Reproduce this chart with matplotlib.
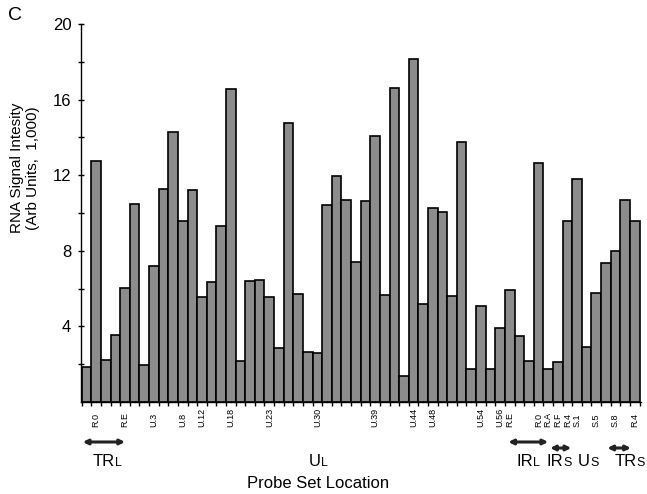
import matplotlib.pyplot as plt
import numpy as np

plt.rcParams['font.family'] = ['Liberation Sans', 'DejaVu Sans']

# RNA signal per probe set (x1000)
signal = [1.85, 12.74, 2.24, 3.57, 6.04, 10.47, 1.98, 7.2, 11.28, 14.29,
          9.6, 11.22, 5.54, 6.35, 9.32, 16.55, 2.17, 6.41, 6.46, 5.58,
          2.86, 14.77, 5.69, 2.65, 2.6, 10.43, 11.95, 10.69, 7.4, 10.64,
          14.05, 5.66, 16.62, 1.36, 18.14, 5.17, 10.29, 10.03, 5.61, 13.78,
          1.73, 5.1, 1.75, 3.92, 5.93, 3.48, 2.17, 12.64, 1.75, 2.1,
          9.6, 11.81, 2.93, 5.77, 7.36, 8.01, 10.71, 9.57]

# which bars carry a probe name
label_idx = [1, 4, 7, 10, 12, 15, 19, 24, 30, 34, 36, 41, 43, 44,
             47, 48, 49, 50, 51, 53, 55, 57]
label_txt = ['R.0', 'R.E', 'U.3', 'U.8', 'U.12', 'U.18', 'U.23', 'U.30',
             'U.39', 'U.44', 'U.48', 'U.54', 'U.56', 'R.E', 'R.0', 'R.A',
             'R.F', 'R.4', 'S.1', 'S.5', 'S.8', 'R.4']

# genome regions: (main, small, span start, span end)
regions = [('TR', 'L', -0.4, 4.0),
           ('U', 'L', None, None),
           ('IR', 'L', 43.85, 48.0),
           ('IR', 'S', 48.2, 50.4),
           ('U', 'S', None, None),
           ('TR', 'S', 54.15, 56.6)]
region_anchor = [2.96, 24.37, 46.46, 49.58, 52.34, 57.2]
arrow_y = [52, None, 52, 46, None, 46]

W, H = 647, 494
fig = plt.figure(figsize=(W / 100, H / 100), dpi=100)
ax = fig.add_axes([81 / W, 1 - 402 / H, 560 / W, 378 / H])

x = np.arange(len(signal))
ax.bar(x, signal, width=1.0, color='#8c8c8c', edgecolor='black', linewidth=1.2)

ax.set_xlim(-0.58, 57.65)
ax.set_ylim(0, 20)
ax.spines['top'].set_visible(False)
ax.spines['right'].set_visible(False)
ax.spines['left'].set_linewidth(1.0)
ax.spines['bottom'].set_linewidth(1.0)

ax.set_yticks([4, 8, 12, 16, 20])
ax.set_yticks([2, 6, 10, 14, 18], minor=True)
ax.tick_params(axis='y', which='both', direction='inout', length=4, width=1,
               labelsize=12, pad=5)

ax.set_xticks(np.arange(len(signal) + 1) - 0.5, minor=True)
ax.set_xticks([])
ax.tick_params(axis='x', which='minor', direction='out', length=3, width=1)

trans = ax.get_xaxis_transform()
for i, t in zip(label_idx, label_txt):
    ax.text(i, -0.066, t, rotation=90, ha='center', va='bottom',
            fontsize=6.5, transform=trans)

# region arrows and names
for (main, small, a, b), xa, ya in zip(regions, region_anchor, arrow_y):
    if a is not None:
        ax.annotate('', xy=(a, ya / H), xytext=(b, ya / H),
                    xycoords=('data', 'figure fraction'),
                    textcoords=('data', 'figure fraction'),
                    arrowprops=dict(arrowstyle='<|-|>', lw=2.2, color='#222222',
                                    mutation_scale=7, shrinkA=0, shrinkB=0),
                    annotation_clip=False)
    ax.annotate(main, xy=(xa, 28 / H), xycoords=('data', 'figure fraction'),
                ha='right', va='baseline', fontsize=12, annotation_clip=False)
    ax.annotate(small, xy=(xa, 28 / H), xycoords=('data', 'figure fraction'),
                ha='left', va='baseline', fontsize=9, annotation_clip=False)

fig.text(318 / W, 1 - 483 / H, 'Probe Set Location', ha='center', va='center',
         fontsize=12)
fig.text(25 / W, 1 - 168 / H, 'RNA Signal Intesity\n(Arb Units,  1,000)',
         rotation=90, ha='center', va='center', fontsize=11, linespacing=1.2)
fig.text(15.5 / W, 1 - 16 / H, 'C', ha='center', va='center', fontsize=14)

fig.savefig('out.png', dpi=100)
